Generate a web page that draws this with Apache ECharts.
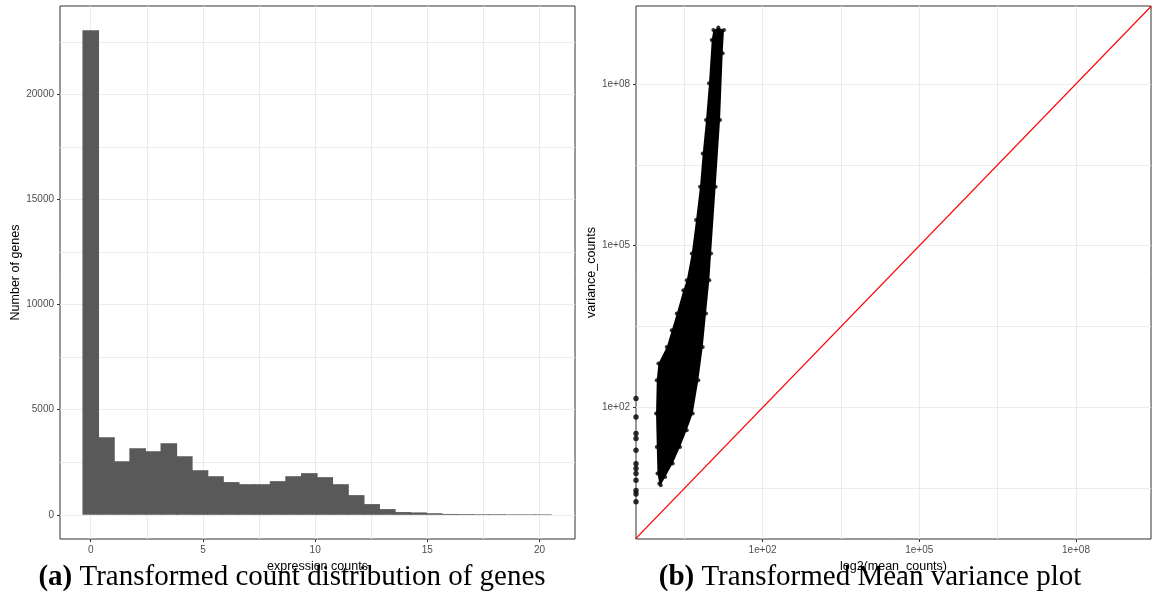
<!DOCTYPE html>
<html>
<head>
<meta charset="utf-8">
<script src="https://cdn.jsdelivr.net/npm/echarts@6.0.0/dist/echarts.min.js"></script>
<style>
  html, body { margin: 0; padding: 0; background: #fff; }
  #chart { width: 1154px; height: 596px; }
</style>
</head>
<body>
<div id="chart"></div>
<script>
// ---- (a) histogram of transformed counts, 30 bins ----
const binCenters = [0, 0.7, 1.39, 2.09, 2.78, 3.48, 4.17, 4.87, 5.56, 6.26,
                    6.96, 7.65, 8.35, 9.04, 9.74, 10.43, 11.13, 11.83, 12.52, 13.22,
                    13.91, 14.61, 15.3, 16.0, 16.7, 17.39, 18.09, 18.78, 19.48, 20.17];
const binCounts = [23050, 3690, 2550, 3160, 3020, 3400, 2785, 2120, 1835, 1555,
                   1455, 1455, 1600, 1835, 1980, 1790, 1455, 935, 508, 270,
                   128, 112, 75, 40, 35, 30, 30, 25, 25, 25];
const binWidth = 0.6955;
const histXTicks = [0, 5, 10, 15, 20];
const histXGrid = [0, 2.5, 5, 7.5, 10, 12.5, 15, 17.5, 20];
const histYTicks = [0, 5000, 10000, 15000, 20000];
const histYGrid = [0, 2500, 5000, 7500, 10000, 12500, 15000, 17500, 20000, 22500];

// ---- (b) mean / variance cloud (outline of the dense point mass) ----
const cloudMean = [1.12, 1.36, 1.90, 2.62, 3.52, 4.59, 5.87, 7.13, 8.24, 9.53,
                   10.3, 12.6, 15.3, 17.2, 18.2, 14.2, 11.4, 10.6, 9.40, 8.24,
                   7.13, 6.32, 5.31, 4.39, 3.52, 3.03, 2.27, 1.82, 1.46, 1.01,
                   0.94, 0.91, 0.94, 0.97, 1.05];
const cloudVar = [3.61, 5.15, 9.14, 18.6, 37.9, 77.4, 321, 1330, 5550, 23000,
                  71900, 1.24e6, 2.14e7, 3.70e8, 1.0e9, 1.12e9, 1.0e9, 6.52e8, 1.03e8, 2.14e7,
                  5.15e6, 1.24e6, 2.99e5, 71900, 23000, 15000, 5550, 2720, 1330, 655,
                  321, 77.4, 18.6, 5.97, 3.89];
// genes with zero mean sit on the left edge of the panel
const edgeMean = [0.376, 0.376, 0.376, 0.376, 0.376, 0.376, 0.376, 0.376, 0.376, 0.376, 0.376, 0.376];
const edgeVar = [147, 67, 33, 26.6, 16.1, 9.1, 7.4, 6.0, 4.5, 2.9, 2.5, 1.8];
const identityLine = [[0.365, 0.365], [2.79e9, 2.79e9]];
const logTicks = [1e2, 1e5, 1e8];
const logGrid = [3.162, 1e2, 3162, 1e5, 3.162e6, 1e8];

const chart = echarts.init(document.getElementById('chart'), null, { renderer: 'canvas' });

const GRID_C = '#ebebeb';
const TICK_C = '#333333';
const LABEL_C = '#4d4d4d';
const BAR_C = '#595959';

function sci(v) {
    const e = Math.round(Math.log10(v));
    return '1e+' + String(e).padStart(2, '0');
}
function plain(v) {
    return String(v);
}

// main axis: labels + grid lines; tick axis: only the short tick marks
function mainAxis(gridIndex, type, pos, min, max, ticks, grid, fmt, name, nameGap) {
    const vertical = pos === 'left';
    return {
        type: type, gridIndex: gridIndex, position: pos, min: min, max: max,
        logBase: 10,
        name: name, nameLocation: 'middle', nameGap: nameGap,
        nameRotate: vertical ? 90 : 0,
        nameTextStyle: { color: '#000', fontSize: 12.5, fontFamily: 'Liberation Sans' },
        axisLine: { show: false, onZero: false },
        axisTick: { show: false, customValues: grid },
        splitLine: { show: true, customValues: grid, lineStyle: { color: GRID_C, width: 1 } },
        axisLabel: {
            customValues: ticks, formatter: fmt, color: LABEL_C, fontSize: 10,
            fontFamily: 'Liberation Sans', margin: 6
        }
    };
}
function tickAxis(gridIndex, type, pos, min, max, ticks) {
    return {
        type: type, gridIndex: gridIndex, position: pos, min: min, max: max,
        logBase: 10,
        axisLine: { show: false, onZero: false },
        axisTick: { show: true, length: 3, customValues: ticks, lineStyle: { color: TICK_C } },
        splitLine: { show: false },
        axisLabel: { show: false }
    };
}

const option = {
    animation: false,
    backgroundColor: '#ffffff',
    textStyle: { fontFamily: 'Liberation Sans' },
    title: [{
        text: '{b|(a)} Transformed count distribution of genes',
        left: 292, top: 563, textAlign: 'center', padding: 0,
        textStyle: {
            fontFamily: 'Liberation Serif', fontSize: 29, fontWeight: 'normal', color: '#000',
            rich: { b: { fontFamily: 'Liberation Serif', fontSize: 29, fontWeight: 'bold', color: '#000' } }
        }
    }, {
        text: '{b|(b)} Transformed Mean variance plot',
        left: 870, top: 563, textAlign: 'center', padding: 0,
        textStyle: {
            fontFamily: 'Liberation Serif', fontSize: 29, fontWeight: 'normal', color: '#000',
            rich: { b: { fontFamily: 'Liberation Serif', fontSize: 29, fontWeight: 'bold', color: '#000' } }
        }
    }],
    grid: [
        { left: 60, top: 6, width: 515, height: 533, show: true, borderColor: TICK_C, borderWidth: 1,
          backgroundColor: '#fff', outerBoundsMode: 'none' },
        { left: 636, top: 6, width: 515, height: 533, show: true, borderColor: TICK_C, borderWidth: 1,
          backgroundColor: '#fff', outerBoundsMode: 'none' }
    ],
    xAxis: [
        mainAxis(0, 'value', 'bottom', -1.37, 21.58, histXTicks, histXGrid, plain, 'expression counts', 17),
        tickAxis(0, 'value', 'bottom', -1.37, 21.58, histXTicks),
        mainAxis(1, 'log', 'bottom', 0.376, 2.74e9, logTicks, logGrid, sci, 'log2(mean_counts)', 17),
        tickAxis(1, 'log', 'bottom', 0.376, 2.74e9, logTicks)
    ],
    yAxis: [
        mainAxis(0, 'value', 'left', -1152, 24202, histYTicks, histYGrid, plain, 'Number of genes', 37),
        tickAxis(0, 'value', 'left', -1152, 24202, histYTicks),
        mainAxis(1, 'log', 'left', 0.365, 2.79e9, logTicks, logGrid, sci, 'variance_counts', 37),
        tickAxis(1, 'log', 'left', 0.365, 2.79e9, logTicks)
    ],
    series: [
        {
            name: 'counts', type: 'custom', xAxisIndex: 0, yAxisIndex: 0, clip: true,
            data: binCenters.map((c, i) => [c, binCounts[i]]),
            renderItem: function (params, api) {
                const x = api.value(0), n = api.value(1);
                const p0 = api.coord([x - binWidth / 2, n]);
                const p1 = api.coord([x + binWidth / 2, 0]);
                // widen a touch so neighbouring bins meet without a seam
                return {
                    type: 'rect',
                    shape: { x: p0[0] - 0.5, y: p0[1], width: p1[0] - p0[0] + 1, height: p1[1] - p0[1] },
                    style: { fill: BAR_C }
                };
            }
        },
        {
            name: 'cloud', type: 'custom', xAxisIndex: 2, yAxisIndex: 2, clip: true,
            data: [[cloudMean[0], cloudVar[0]]],
            renderItem: function (params, api) {
                const pts = cloudMean.map((m, i) => api.coord([m, cloudVar[i]]));
                return { type: 'polygon', shape: { points: pts }, style: { fill: '#000' } };
            }
        },
        {
            name: 'cloud edge', type: 'scatter', xAxisIndex: 2, yAxisIndex: 2,
            symbolSize: 4, itemStyle: { color: '#000' },
            data: cloudMean.map((m, i) => [m, cloudVar[i]])
        },
        {
            name: 'zero mean', type: 'scatter', xAxisIndex: 2, yAxisIndex: 2,
            symbolSize: 5.5, itemStyle: { color: '#000' },
            data: edgeMean.map((m, i) => [m, edgeVar[i]])
        },
        {
            name: 'y = x', type: 'line', xAxisIndex: 2, yAxisIndex: 2,
            showSymbol: false, silent: true,
            lineStyle: { color: '#ff0000', width: 1.1 },
            data: identityLine
        }
    ]
};
chart.setOption(option);
</script>
</body>
</html>
